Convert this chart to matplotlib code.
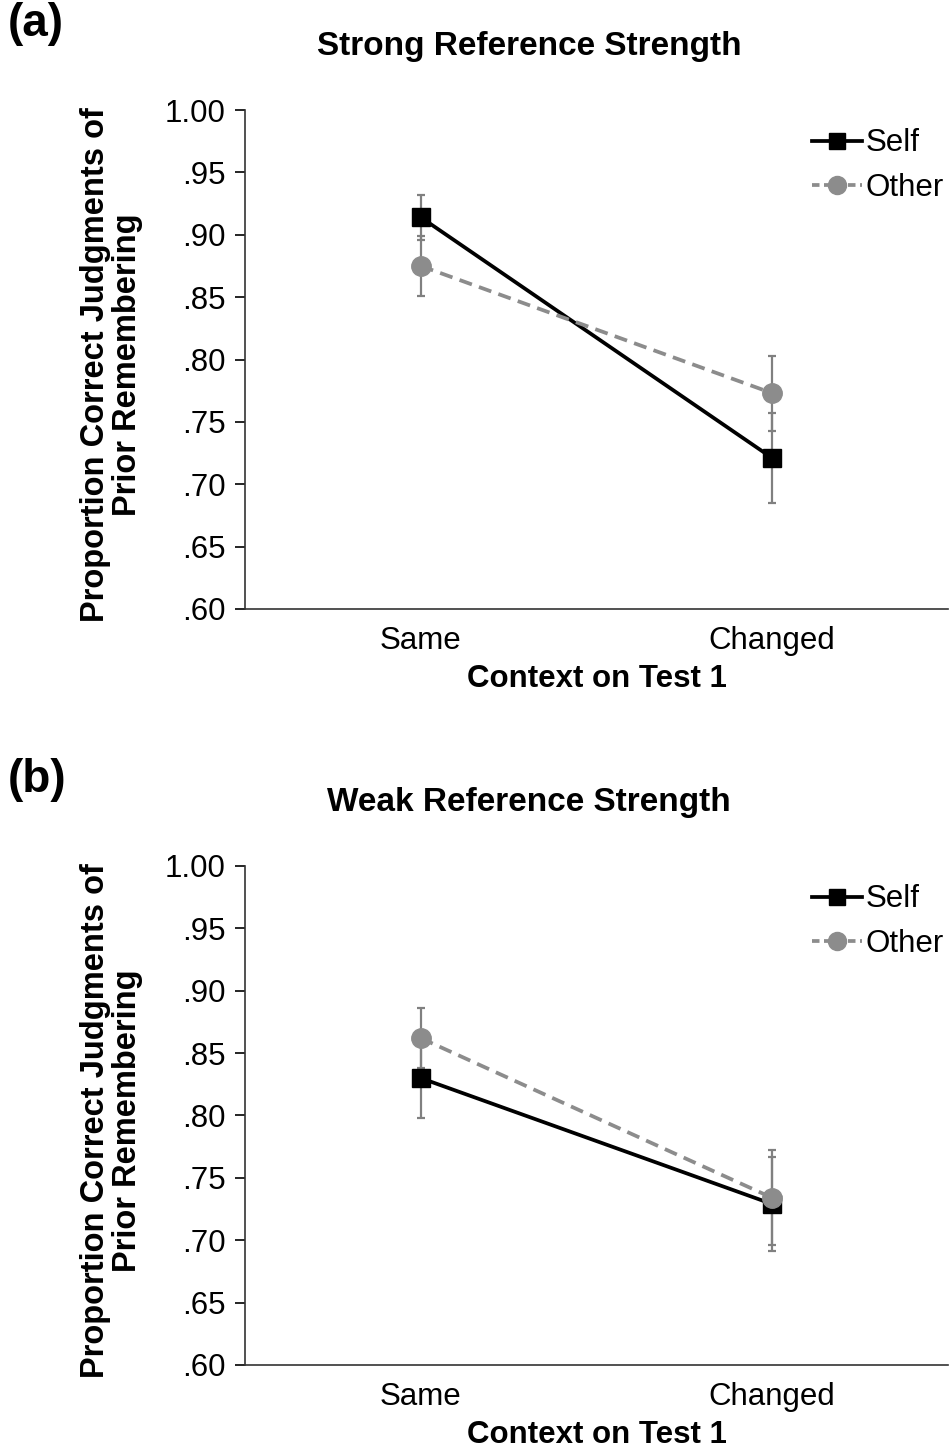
import matplotlib
matplotlib.use("Agg")
import matplotlib.pyplot as plt
from matplotlib.lines import Line2D

plt.rcParams['font.family'] = ['Liberation Sans', 'DejaVu Sans']

categories = ["Same", "Changed"]
yticks = [0.60, 0.65, 0.70, 0.75, 0.80, 0.85, 0.90, 0.95, 1.00]
ytick_labels = [".60", ".65", ".70", ".75", ".80", ".85", ".90", ".95", "1.00"]

strong_self = [0.914, 0.721]
strong_self_err = [0.018, 0.036]
strong_other = [0.875, 0.773]
strong_other_err = [0.024, 0.030]

weak_self = [0.830, 0.729]
weak_self_err = [0.032, 0.038]
weak_other = [0.862, 0.734]
weak_other_err = [0.024, 0.038]

panels = [
    ("(a)", "Strong Reference Strength", strong_self, strong_self_err, strong_other, strong_other_err),
    ("(b)", "Weak Reference Strength", weak_self, weak_self_err, weak_other, weak_other_err),
]

W, H = 950, 1452
fig = plt.figure(figsize=(W / 100, H / 100), dpi=100)

axes_px = [(110, 609), (866, 1365)]  # top, bottom in pixels
left_px, right_px = 245, 948
gray = "#8c8c8c"
errgray = "#808080"

for (tag, title, s, se, o, oe), (top, bot) in zip(panels, axes_px):
    ax = fig.add_axes([left_px / W, 1 - bot / H, (right_px - left_px) / W, (bot - top) / H])
    x = list(range(len(categories)))
    ax.errorbar(x, o, yerr=oe, fmt='none', ecolor=errgray, elinewidth=1.6, capsize=3, capthick=1.6, zorder=2)
    ax.errorbar(x, s, yerr=se, fmt='none', ecolor=errgray, elinewidth=1.6, capsize=3, capthick=1.6, zorder=2)
    ax.plot(x, s, color='black', lw=2.7, marker='s', markersize=13.5, zorder=3)
    ax.plot(x, o, color=gray, lw=2.7, ls=(0, (3.5, 2)), marker='o', markersize=14, zorder=4)
    ax.set_xlim(-0.5, 1.5)
    ax.set_ylim(0.60, 1.00)
    ax.set_yticks(yticks)
    ax.set_yticklabels(ytick_labels)
    ax.set_xticks(x)
    ax.set_xticklabels(categories)
    ax.tick_params(axis='y', labelsize=22.5, length=7, width=1.2, direction='out', pad=7)
    ax.tick_params(axis='x', labelsize=22.5, length=0, pad=12)
    for sp in ['top', 'right']:
        ax.spines[sp].set_visible(False)
    for sp in ['left', 'bottom']:
        ax.spines[sp].set_linewidth(1.2)
        ax.spines[sp].set_color('#333333')
    ax.set_xlabel("Context on Test 1", fontsize=22.5, fontweight='bold', labelpad=6)
    ax.set_ylabel("Proportion Correct Judgments of\nPrior Remembering", fontsize=23.5,
                  fontweight='bold', linespacing=1.05)
    ax.yaxis.set_label_coords((143 - left_px) / (right_px - left_px), 1 - 255 / (bot - top))
    handles = [
        Line2D([], [], color='black', lw=2.7, marker='s', markersize=12),
        Line2D([], [], color=gray, lw=2.7, ls=(0, (2, 1.2)), marker='o', markersize=13),
    ]
    ax.legend(handles, ["Self", "Other"], loc='upper right', bbox_to_anchor=(1.012, 0.988),
              frameon=False, fontsize=22.5, handlelength=1.6, handletextpad=0.12,
              labelspacing=0.45, borderaxespad=0)
    fig.text(529 / W, 1 - (top - 64) / H, title, fontsize=24, fontweight='bold',
             ha='center', va='center')
    fig.text(8 / W, 1 - (top - 86) / H, tag, fontsize=33, fontweight='bold',
             ha='left', va='center')

fig.savefig("out.png", dpi=100)
